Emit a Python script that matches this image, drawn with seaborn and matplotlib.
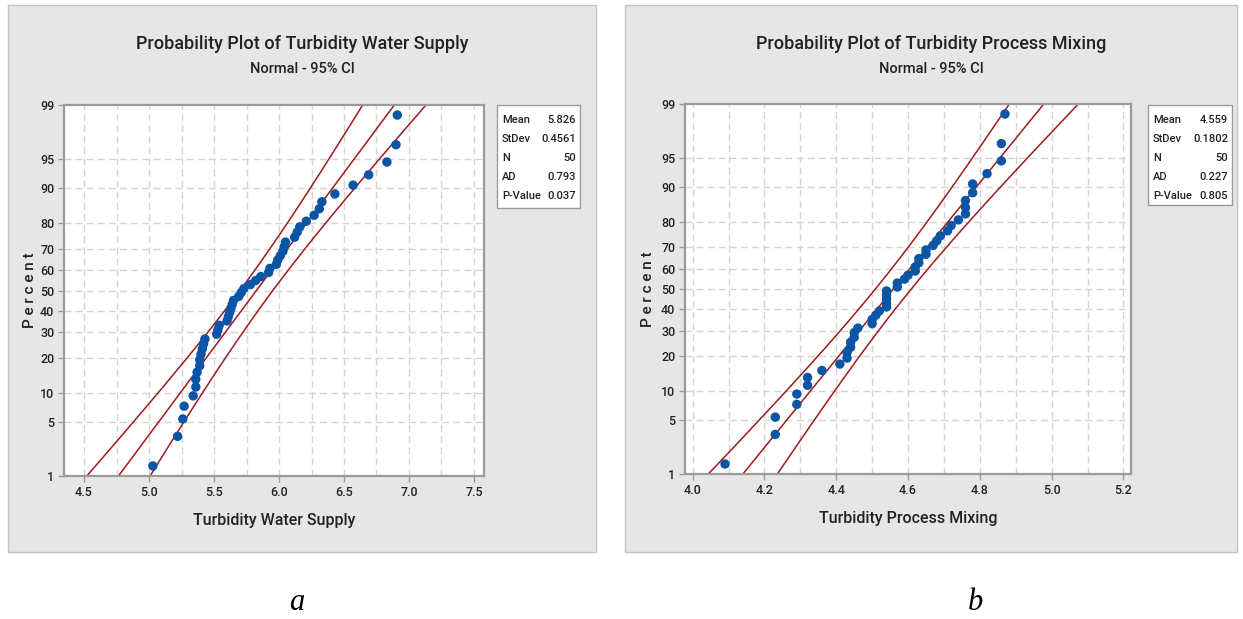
import matplotlib
matplotlib.use("Agg")
import matplotlib.pyplot as plt
import seaborn as sns
import numpy as np
import pandas as pd
from statistics import NormalDist
from matplotlib.patches import Rectangle

# ---------------- data ----------------
water_supply = [5.03, 5.22, 5.26, 5.27, 5.34, 5.36, 5.36, 5.37, 5.39, 5.39,
                5.40, 5.41, 5.42, 5.43, 5.52, 5.53, 5.54, 5.60, 5.61, 5.62,
                5.63, 5.64, 5.65, 5.69, 5.71, 5.73, 5.78, 5.82, 5.86, 5.92,
                5.93, 5.98, 5.99, 6.01, 6.03, 6.04, 6.05, 6.12, 6.14, 6.16,
                6.21, 6.27, 6.31, 6.33, 6.43, 6.57, 6.69, 6.83, 6.90, 6.91]
process_mixing = [4.09, 4.23, 4.23, 4.29, 4.29, 4.32, 4.32, 4.36, 4.41, 4.43,
                  4.43, 4.44, 4.44, 4.45, 4.45, 4.46, 4.50, 4.50, 4.51, 4.52,
                  4.54, 4.54, 4.54, 4.54, 4.54, 4.57, 4.57, 4.59, 4.60, 4.62,
                  4.62, 4.63, 4.63, 4.65, 4.65, 4.67, 4.68, 4.69, 4.71, 4.72,
                  4.74, 4.76, 4.76, 4.76, 4.78, 4.78, 4.82, 4.86, 4.86, 4.87]

pct_ticks = [1, 5, 10, 20, 30, 40, 50, 60, 70, 80, 90, 95, 99]
stat_names = ["Mean", "StDev", "N", "AD", "P-Value"]
stats_water = ["5.826", "0.4561", "50", "0.793", "0.037"]
stats_mixing = ["4.559", "0.1802", "50", "0.227", "0.805"]
mean_water, sd_water = 5.826, 0.4561
mean_mixing, sd_mixing = 4.559, 0.1802
xticks_water = [4.5, 5.0, 5.5, 6.0, 6.5, 7.0, 7.5]
xticks_mixing = [4.0, 4.2, 4.4, 4.6, 4.8, 5.0, 5.2]
titles = ["Probability Plot of Turbidity Water Supply",
          "Probability Plot of Turbidity Process Mixing"]
subtitle = "Normal - 95% CI"
xlabels = ["Turbidity Water Supply", "Turbidity Process Mixing"]
panel_letters = ["a", "b"]

# ---------------- style ----------------
sns.set_theme(style="white")
SANS = ["Roboto", "Liberation Sans", "DejaVu Sans"]
plt.rcParams["font.family"] = SANS

W, H = 1243, 619
fig = plt.figure(figsize=(W / 100, H / 100), dpi=100)
fig.patch.set_facecolor("white")

def fx(px):
    return px / W

def fy(py):
    return 1 - py / H

nd = NormalDist()
PANEL_BG = "#e6e6e6"
RED = "#9e1b1b"
BLUE = "#0a55a5"
GRID = "#d4d4d4"
TXT = "#222222"

panels = [
    dict(data=water_supply, mean=mean_water, sd=sd_water, stats=stats_water,
         rect=(8, 5, 596, 552), ax=(64, 105, 484, 476),
         xlim=(4.346, 7.577), xticks=xticks_water, xgrid_step=0.25,
         legend=(497, 105, 580, 208), ylab_x=30),
    dict(data=process_mixing, mean=mean_mixing, sd=sd_mixing, stats=stats_mixing,
         rect=(625, 5, 1237, 552), ax=(685, 104, 1131, 474),
         xlim=(3.9785, 5.2212), xticks=xticks_mixing, xgrid_step=0.1,
         legend=(1148, 105, 1232, 205), ylab_x=648),
]

for k, p in enumerate(panels):
    x0, y0, x1, y1 = p["rect"]
    fig.patches.append(Rectangle((fx(x0), fy(y1)), fx(x1) - fx(x0), fy(y0) - fy(y1),
                                 transform=fig.transFigure, facecolor=PANEL_BG,
                                 edgecolor="#c4c4c4", lw=1.0, zorder=-5))
    cx = (x0 + x1) / 2
    fig.text(fx(cx), fy(44), titles[k], ha="center", va="center",
             fontsize=13, fontweight="medium", color=TXT, family=SANS)
    fig.text(fx(cx), fy(69), subtitle, ha="center", va="center",
             fontsize=10.5, fontweight="medium", color=TXT, family=SANS)

    a0, b0, a1, b1 = p["ax"]
    ax = fig.add_axes([fx(a0), fy(b1), fx(a1) - fx(a0), fy(b0) - fy(b1)])
    ax.set_zorder(3)
    ax.set_facecolor("white")

    vals = np.sort(np.array(p["data"]))
    n = len(vals)
    ranks = np.arange(1, n + 1)
    z_pts = np.array([nd.inv_cdf((i - 0.3) / (n + 0.4)) for i in ranks])

    z_line = np.linspace(-3.0, 3.0, 300)
    mu, sd = p["mean"], p["sd"]
    fit = mu + sd * z_line
    se = sd * np.sqrt(1.0 / n + z_line ** 2 / (2.0 * n))
    lines = pd.DataFrame({
        "z": np.concatenate([z_line] * 3),
        "x": np.concatenate([fit - 1.96 * se, fit, fit + 1.96 * se]),
        "band": np.repeat(["lower", "fit", "upper"], len(z_line)),
    })
    sns.lineplot(data=lines, x="x", y="z", units="band", estimator=None,
                 sort=False, color=RED, lw=1.1, ax=ax, zorder=2)
    sns.scatterplot(x=vals, y=z_pts, color=BLUE, s=46, edgecolor="none",
                    ax=ax, zorder=3)

    zlo, zhi = nd.inv_cdf(0.01), nd.inv_cdf(0.99)
    ax.set_ylim(zlo, zhi)
    ax.set_xlim(*p["xlim"])
    ytick_z = [nd.inv_cdf(t / 100) for t in pct_ticks]
    ax.set_yticks(ytick_z)
    ax.set_yticklabels([str(t) for t in pct_ticks])
    ax.set_xticks(p["xticks"])
    ax.set_xticklabels([f"{t:.1f}" for t in p["xticks"]])
    for lab in ax.get_xticklabels() + ax.get_yticklabels():
        lab.set_fontweight("medium")

    # grid
    step = p["xgrid_step"]
    g = p["xticks"][0]
    while g <= p["xticks"][-1] + 1e-9:
        ax.axvline(g, color=GRID, lw=1.0, ls=(0, (5, 3)), zorder=1)
        g += step
    for zt in ytick_z[1:-1]:
        ax.axhline(zt, color=GRID, lw=1.0, ls=(0, (5, 3)), zorder=1)

    for s in ax.spines.values():
        s.set_color("#9a9a9a")
        s.set_linewidth(1.6)
    ax.tick_params(axis="both", which="major", direction="out", length=4,
                   width=1, color="#9a9a9a", labelsize=9, labelcolor=TXT,
                   left=True, bottom=True, pad=3)
    ax.set_xlabel(xlabels[k], fontsize=11.5, fontweight="medium", color=TXT,
                  labelpad=10)
    ax.set_ylabel("")
    fig.text(fx(p["ylab_x"]), fy((b0 + b1) / 2), "P e r c e n t", rotation=90,
             ha="center", va="center", fontsize=11, fontweight="medium",
             color=TXT, family=SANS)

    # stats box
    l0, t0, l1, t1 = p["legend"]
    fig.patches.append(Rectangle((fx(l0), fy(t1)), fx(l1) - fx(l0), fy(t0) - fy(t1),
                                 transform=fig.transFigure, facecolor="white",
                                 edgecolor="#9a9a9a", lw=1.0, zorder=-1))
    for j, (nm, v) in enumerate(zip(stat_names, p["stats"])):
        yy = t0 + 15 + j * 19
        fig.text(fx(l0 + 5), fy(yy), nm, ha="left", va="center", fontsize=8,
                 fontweight="medium", color=TXT, family=SANS)
        fig.text(fx(l1 - 4), fy(yy), v, ha="right", va="center", fontsize=8,
                 fontweight="medium", color=TXT, family=SANS)

    fig.text(fx((a0 + a1) / 2 + (23 if k == 0 else 67)), fy(603), panel_letters[k],
             ha="center", va="center", fontsize=22, style="italic",
             family=["Liberation Serif", "DejaVu Serif"], color="black")

fig.savefig("out.png", dpi=100, facecolor="white")
